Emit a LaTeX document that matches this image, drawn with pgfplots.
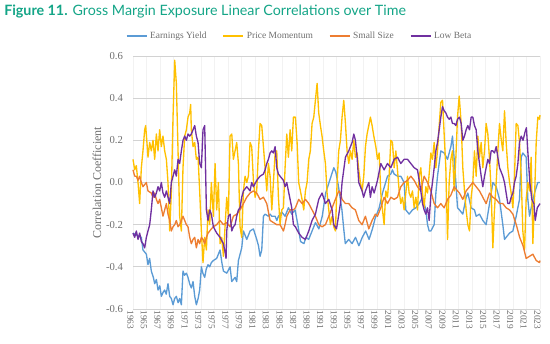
\documentclass[border=0pt]{standalone}
\usepackage{fontspec}
\setmainfont{Liberation Serif}
\newfontfamily\lato{Lato}
\usepackage{pgfplots}
\pgfplotsset{compat=1.18}
\definecolor{cBlue}{HTML}{5B9BD5}
\definecolor{cYellow}{HTML}{FFC000}
\definecolor{cOrange}{HTML}{ED7D31}
\definecolor{cPurple}{HTML}{7030A0}
\definecolor{titlegreen}{RGB}{20,165,135}
\definecolor{txtgray}{RGB}{110,110,110}
\begin{document}
\begin{tikzpicture}
\path[use as bounding box] (0,0) rectangle (412.5pt,257.25pt);
\node[anchor=base west, inner sep=0pt, text=titlegreen, font=\lato\fontsize{10.7}{12}\selectfont] at (3pt,245.6pt) {\textbf{Figure 11.}\hspace{0.35em}Gross Margin Exposure Linear Correlations over Time};
\begin{axis}[
  at={(99.75pt,25.5pt)}, anchor=south west,
  scale only axis, width=305.25pt, height=189.75pt,
  xmin=1963, xmax=2023, ymin=-0.6, ymax=0.6,
  xtick={1963,1965,...,2023},
  ytick={-0.6,-0.4,-0.2,0,0.2,0.4,0.6},
  yticklabels={-0.6,-0.4,-0.2,0.0,0.2,0.4,0.6},
  /pgf/number format/assume math mode=true,
  /pgf/number format/1000 sep={},
  axis line style={draw=none},
  major tick length=0pt,
  xmajorgrids, ymajorgrids,
  x grid style={color=gray!10, line width=0.4pt},
  y grid style={color=gray!35, line width=0.7pt},
  tick label style={font=\fontsize{7}{8}\selectfont, text=txtgray},
  xticklabel style={rotate=-90, anchor=west, inner sep=1pt, yshift=-2pt},
  yticklabel style={font=\fontsize{8}{9}\selectfont, xshift=-4pt},
  ylabel={Correlation Coefficient},
  every axis y label/.style={at={(axis description cs:-0.0885,0.5)}, rotate=90, anchor=center, font=\fontsize{9}{10}\selectfont, text=txtgray},
  legend columns=4,
  legend style={draw=none, fill=none, at={(axis description cs:0.41,1.079)}, anchor=center, font=\fontsize{7.1}{8}\selectfont, text=txtgray, /tikz/every even column/.append style={column sep=10pt}},
  legend image code/.code={\draw[#1, line width=1.2pt] (0pt,0pt) -- (15pt,0pt);},
  every axis plot/.append style={line width=1pt, line join=round, mark=none},
  clip=false,
]
\addplot[cBlue] coordinates {(1963.00,-0.24)(1963.5,-0.25)(1964.23,-0.26)(1964.47,-0.32)(1964.97,-0.34)(1965.21,-0.39)(1965.45,-0.36)(1965.70,-0.42)(1966.0,-0.45)(1966.20,-0.48)(1966.45,-0.46)(1966.69,-0.51)(1966.95,-0.49)(1967.18,-0.54)(1967.45,-0.52)(1967.67,-0.51)(1967.9,-0.53)(1968.16,-0.48)(1968.41,-0.54)(1968.65,-0.55)(1968.90,-0.58)(1969.15,-0.55)(1969.39,-0.54)(1969.65,-0.57)(1969.88,-0.55)(1970.13,-0.58)(1970.37,-0.42)(1970.6,-0.44)(1970.87,-0.43)(1971.11,-0.45)(1971.35,-0.48)(1971.60,-0.50)(1971.85,-0.47)(1972.10,-0.54)(1972.34,-0.58)(1972.6,-0.55)(1972.83,-0.51)(1973.08,-0.40)(1973.3,-0.43)(1973.57,-0.45)(1973.8,-0.41)(1974.06,-0.39)(1974.3,-0.40)(1974.55,-0.38)(1974.85,-0.37)(1975.34,-0.36)(1975.83,-0.32)(1976.1,-0.38)(1976.33,-0.42)(1976.82,-0.43)(1977.31,-0.40)(1977.56,-0.47)(1978.05,-0.45)(1978.29,-0.47)(1978.54,-0.37)(1979.03,-0.31)(1979.28,-0.23)(1979.77,-0.27)(1980.26,-0.23)(1980.75,-0.22)(1981.24,-0.27)(1981.5,-0.30)(1981.73,-0.35)(1981.98,-0.32)(1982.23,-0.16)(1982.47,-0.15)(1982.96,-0.16)(1983.21,-0.15)(1983.46,-0.16)(1983.95,-0.16)(1984.2,-0.18)(1984.44,-0.16)(1984.93,-0.14)(1985.42,-0.16)(1985.91,-0.12)(1986.4,-0.15)(1986.9,-0.13)(1987.3,-0.2)(1987.7,-0.28)(1988.2,-0.29)(1988.5,-0.26)(1988.9,-0.27)(1989.4,-0.23)(1989.9,-0.19)(1990.4,-0.22)(1990.9,-0.16)(1991.4,-0.05)(1991.9,0.0)(1992.3,0.04)(1992.6,0.07)(1992.9,0.05)(1993.3,-0.02)(1993.8,-0.13)(1994.1,-0.23)(1994.3,-0.29)(1994.8,-0.27)(1995.3,-0.29)(1995.8,-0.26)(1996.3,-0.30)(1996.8,-0.26)(1997.3,-0.23)(1997.8,-0.27)(1998.3,-0.22)(1998.7,-0.17)(1999.29,-0.12)(1999.78,-0.05)(2000.52,0.03)(2001.0,0.04)(2001.25,0.06)(2001.5,0.04)(2001.99,0.03)(2002.48,0.03)(2002.97,0.0)(2003.22,-0.13)(2003.71,-0.15)(2004.2,-0.13)(2004.7,-0.12)(2005.19,-0.10)(2005.68,-0.07)(2006.17,-0.13)(2006.42,-0.20)(2006.66,-0.23)(2006.91,-0.23)(2007.4,-0.20)(2007.65,-0.05)(2007.89,0.03)(2008.38,0.15)(2008.87,0.14)(2009.37,0.11)(2009.86,0.17)(2010.1,0.22)(2010.35,0.11)(2010.6,0.0)(2010.84,-0.12)(2011.13,-0.13)(2011.62,-0.15)(2012.11,-0.07)(2012.36,-0.05)(2012.85,-0.12)(2013.34,-0.13)(2013.59,-0.16)(2014.08,-0.15)(2014.57,-0.18)(2015.06,-0.20)(2015.56,-0.10)(2016.05,0.0)(2016.54,-0.02)(2017.03,-0.08)(2017.52,-0.20)(2017.77,-0.27)(2018.01,-0.26)(2018.51,-0.24)(2019.0,-0.23)(2019.49,-0.16)(2019.98,-0.08)(2020.23,0.12)(2020.47,0.14)(2020.96,0.12)(2021.21,-0.08)(2021.46,-0.16)(2021.7,-0.12)(2022.19,-0.05)(2022.68,0.0)(2023.0,0.0)};
\addlegendentry{Earnings Yield}
\addplot[cYellow] coordinates {(1963.0,0.11)(1963.25,0.06)(1963.49,0.08)(1963.74,0.0)(1963.98,-0.10)(1964.23,0.07)(1964.47,0.15)(1964.72,0.25)(1964.87,0.27)(1965.21,0.12)(1965.46,0.19)(1965.7,0.15)(1965.95,0.2)(1966.2,0.11)(1966.44,0.23)(1966.69,0.15)(1966.93,0.25)(1967.18,0.17)(1967.42,0.22)(1967.67,0.15)(1967.92,0.11)(1968.16,0.0)(1968.41,-0.23)(1968.65,-0.05)(1968.9,0.31)(1969.15,0.58)(1969.39,0.47)(1969.64,0.15)(1969.88,-0.16)(1970.13,-0.23)(1970.37,0.07)(1970.62,0.22)(1970.87,0.25)(1971.11,0.31)(1971.36,0.33)(1971.5,0.37)(1971.6,0.25)(1971.85,0.17)(1972.1,0.19)(1972.34,0.11)(1972.59,0.12)(1972.83,-0.04)(1973.08,-0.23)(1973.32,-0.38)(1973.57,-0.26)(1973.82,-0.32)(1974.06,-0.13)(1974.31,-0.2)(1974.55,0.0)(1974.85,-0.16)(1975.1,0.09)(1975.34,-0.13)(1975.59,0.0)(1975.83,-0.29)(1976.08,-0.26)(1976.33,-0.35)(1976.57,-0.21)(1976.82,-0.07)(1977.06,-0.16)(1977.31,0.22)(1977.56,0.23)(1977.8,0.11)(1978.05,0.15)(1978.29,0.19)(1978.54,0.09)(1978.78,-0.21)(1979.03,-0.26)(1979.28,-0.04)(1979.52,0.03)(1979.77,0.0)(1980.01,0.03)(1980.26,0.19)(1980.5,0.17)(1980.75,0.01)(1981.0,-0.07)(1981.24,-0.04)(1981.49,0.15)(1981.73,0.28)(1981.98,0.27)(1982.23,0.17)(1982.47,0.07)(1982.72,-0.04)(1982.96,0.09)(1983.21,0.03)(1983.46,-0.13)(1983.7,0.0)(1983.95,0.14)(1984.19,0.15)(1984.44,-0.07)(1984.68,-0.2)(1984.93,-0.13)(1985.18,-0.12)(1985.42,0.07)(1985.67,0.23)(1985.91,0.12)(1986.16,0.25)(1986.4,0.15)(1986.65,0.31)(1986.94,0.31)(1987.19,0.19)(1987.43,0.0)(1987.68,-0.04)(1987.92,-0.08)(1988.17,-0.13)(1988.42,-0.04)(1988.66,0.0)(1988.91,0.11)(1989.15,0.15)(1989.4,0.28)(1989.65,0.31)(1989.89,0.39)(1990.14,0.47)(1990.38,0.33)(1990.63,0.27)(1990.87,0.22)(1991.12,0.15)(1991.37,0.09)(1991.61,-0.05)(1991.86,-0.13)(1992.1,-0.2)(1992.35,-0.16)(1992.6,-0.21)(1992.84,-0.23)(1993.09,0.0)(1993.33,0.15)(1993.58,0.2)(1993.82,0.31)(1994.07,0.39)(1994.32,0.28)(1994.56,0.15)(1994.81,0.09)(1995.05,0.15)(1995.3,0.11)(1995.55,0.2)(1995.79,0.12)(1996.04,0.14)(1996.28,0.06)(1996.53,0.0)(1996.77,-0.04)(1997.02,0.03)(1997.27,0.17)(1997.51,0.23)(1997.76,0.27)(1998.0,0.31)(1998.25,0.27)(1998.5,0.22)(1998.8,0.17)(1999.04,0.11)(1999.29,0.14)(1999.53,-0.05)(1999.78,-0.13)(2000.02,-0.2)(2000.27,-0.04)(2000.52,-0.07)(2000.76,0.03)(2001.01,0.2)(2001.25,0.19)(2001.5,0.07)(2001.75,0.15)(2001.99,0.06)(2002.24,-0.04)(2002.48,-0.1)(2002.73,-0.07)(2002.97,-0.13)(2003.22,-0.05)(2003.47,0.03)(2003.71,-0.05)(2003.96,-0.07)(2004.2,-0.04)(2004.45,-0.12)(2004.7,-0.07)(2004.94,-0.13)(2005.19,0.03)(2005.43,0.07)(2005.68,-0.05)(2005.92,-0.12)(2006.17,-0.02)(2006.42,-0.05)(2006.66,0.04)(2006.91,0.14)(2007.15,0.11)(2007.4,0.19)(2007.65,0.07)(2007.89,0.15)(2008.14,0.27)(2008.38,0.38)(2008.63,0.39)(2008.87,0.23)(2009.12,0.07)(2009.37,-0.27)(2009.61,0.0)(2009.86,0.11)(2010.1,0.15)(2010.35,-0.04)(2010.6,0.12)(2010.84,0.31)(2011.09,0.41)(2011.38,0.28)(2011.62,0.07)(2011.87,-0.04)(2012.11,-0.13)(2012.36,-0.2)(2012.61,-0.23)(2012.85,-0.07)(2013.1,0.0)(2013.34,0.15)(2013.59,0.03)(2013.84,0.22)(2014.08,0.12)(2014.33,0.19)(2014.57,0.07)(2014.82,0.15)(2015.06,0.28)(2015.31,0.23)(2015.56,0.11)(2015.8,-0.04)(2016.05,-0.31)(2016.29,-0.13)(2016.54,0.0)(2016.79,0.15)(2017.03,0.28)(2017.3,0.2)(2017.52,0.15)(2017.77,0.34)(2018.01,0.19)(2018.26,0.07)(2018.51,0.0)(2018.75,-0.05)(2019.0,-0.12)(2019.24,0.03)(2019.49,0.28)(2019.74,0.27)(2019.98,0.19)(2020.23,0.03)(2020.47,-0.23)(2020.72,-0.32)(2020.96,-0.08)(2021.21,0.0)(2021.46,-0.04)(2021.7,0.12)(2021.95,-0.29)(2022.2,-0.07)(2022.44,0.19)(2022.68,0.31)(2022.93,0.30)(2023.0,0.32)};
\addlegendentry{Price Momentum}
\addplot[cOrange] coordinates {(1963.0,0.06)(1963.25,0.03)(1963.5,0.03)(1963.74,0.01)(1963.98,0.03)(1964.23,0.0)(1964.47,-0.02)(1964.97,0.0)(1965.21,-0.04)(1965.7,-0.05)(1965.95,-0.07)(1966.2,-0.05)(1966.44,-0.08)(1966.69,-0.1)(1966.93,-0.08)(1967.18,-0.12)(1967.42,-0.16)(1967.67,-0.13)(1967.92,-0.1)(1968.16,-0.15)(1968.41,-0.18)(1968.65,-0.23)(1968.9,-0.21)(1969.15,-0.2)(1969.39,-0.18)(1969.64,-0.21)(1969.88,-0.2)(1970.13,-0.18)(1970.37,-0.16)(1970.62,-0.18)(1970.87,-0.2)(1971.11,-0.21)(1971.36,-0.26)(1971.6,-0.29)(1971.85,-0.27)(1972.1,-0.26)(1972.34,-0.31)(1972.59,-0.27)(1972.83,-0.29)(1973.08,-0.26)(1973.32,-0.27)(1973.57,-0.29)(1973.82,-0.26)(1974.06,-0.24)(1974.31,-0.23)(1974.55,-0.22)(1974.85,-0.21)(1975.34,-0.2)(1975.83,-0.18)(1976.33,-0.2)(1976.82,-0.19)(1977.31,-0.21)(1977.8,-0.16)(1978.29,-0.15)(1978.78,-0.13)(1979.28,-0.1)(1979.77,-0.07)(1980.26,-0.05)(1980.75,-0.04)(1981.24,-0.05)(1981.73,-0.08)(1982.23,-0.07)(1982.72,-0.1)(1983.21,-0.18)(1983.7,-0.19)(1984.19,-0.2)(1984.68,-0.2)(1985.18,-0.23)(1985.42,-0.2)(1985.67,-0.16)(1986.16,-0.13)(1986.65,-0.13)(1986.94,-0.12)(1987.43,-0.08)(1987.92,-0.1)(1988.42,-0.08)(1988.91,-0.1)(1989.4,-0.13)(1989.89,-0.16)(1990.38,-0.2)(1990.87,-0.21)(1991.37,-0.2)(1991.86,-0.16)(1992.35,-0.12)(1992.84,-0.08)(1993.33,-0.04)(1993.58,-0.05)(1993.82,-0.08)(1994.32,-0.1)(1994.81,-0.1)(1995.3,-0.12)(1995.79,-0.13)(1996.28,-0.18)(1996.77,-0.2)(1997.27,-0.16)(1997.76,-0.22)(1998.25,-0.18)(1998.74,-0.15)(1999.04,-0.16)(1999.53,-0.12)(2000.02,-0.07)(2000.52,-0.1)(2001.01,-0.07)(2001.5,-0.08)(2001.99,-0.07)(2002.48,-0.02)(2002.97,0.0)(2003.47,0.01)(2003.96,0.03)(2004.45,0.01)(2004.94,-0.02)(2005.43,-0.04)(2005.92,0.03)(2006.42,0.0)(2006.91,-0.04)(2007.4,-0.1)(2007.89,-0.12)(2008.38,-0.1)(2008.87,-0.12)(2009.37,-0.08)(2009.86,-0.06)(2010.35,-0.02)(2010.84,-0.04)(2011.13,-0.05)(2011.62,-0.08)(2012.11,-0.04)(2012.61,-0.02)(2013.1,0.0)(2013.59,-0.02)(2014.08,-0.04)(2014.57,-0.07)(2015.06,-0.1)(2015.56,-0.05)(2016.05,-0.07)(2016.54,-0.08)(2017.03,-0.1)(2017.52,-0.1)(2018.01,-0.12)(2018.51,-0.13)(2019.0,-0.15)(2019.5,-0.2)(2020.0,-0.26)(2020.5,-0.3)(2020.96,-0.36)(2021.46,-0.35)(2021.95,-0.34)(2022.44,-0.37)(2022.93,-0.38)(2023.0,-0.37)};
\addlegendentry{Small Size}
\addplot[cPurple] coordinates {(1963.0,-0.24)(1963.25,-0.26)(1963.49,-0.23)(1963.74,-0.27)(1963.98,-0.24)(1964.23,-0.28)(1964.47,-0.29)(1964.72,-0.31)(1964.97,-0.26)(1965.21,-0.23)(1965.46,-0.2)(1965.7,-0.13)(1965.95,-0.04)(1966.2,-0.07)(1966.44,-0.05)(1966.69,-0.02)(1966.93,-0.04)(1967.18,0.0)(1967.42,-0.05)(1967.67,-0.07)(1967.92,-0.04)(1968.16,-0.07)(1968.41,-0.1)(1968.65,0.0)(1968.9,0.03)(1969.15,0.06)(1969.39,0.03)(1969.64,0.11)(1969.88,0.09)(1970.13,0.15)(1970.37,0.2)(1970.62,0.22)(1970.87,0.2)(1971.11,0.23)(1971.36,0.22)(1971.6,0.23)(1971.85,0.25)(1972.1,0.27)(1972.34,0.22)(1972.59,0.19)(1972.83,0.09)(1973.08,0.07)(1973.32,0.25)(1973.57,0.27)(1973.82,-0.13)(1974.06,-0.18)(1974.31,-0.13)(1974.55,-0.15)(1974.85,-0.21)(1975.34,-0.24)(1975.83,-0.26)(1976.33,-0.29)(1976.57,-0.33)(1976.72,-0.36)(1976.82,-0.23)(1977.06,-0.16)(1977.31,-0.15)(1977.56,-0.23)(1977.8,-0.21)(1978.05,-0.2)(1978.29,-0.16)(1978.54,-0.13)(1978.78,-0.12)(1979.03,-0.07)(1979.28,-0.04)(1979.77,-0.02)(1980.26,-0.04)(1980.5,0.0)(1980.75,-0.02)(1981.24,0.01)(1981.73,0.03)(1982.23,0.04)(1982.47,0.06)(1982.72,0.09)(1982.96,0.11)(1983.21,0.14)(1983.46,0.15)(1983.7,0.14)(1983.95,0.17)(1984.19,0.07)(1984.44,0.04)(1984.68,0.03)(1985.18,0.01)(1985.42,-0.02)(1985.67,0.0)(1985.91,-0.04)(1986.16,-0.08)(1986.4,-0.12)(1986.65,-0.2)(1986.94,-0.21)(1987.43,-0.24)(1987.92,-0.26)(1988.42,-0.27)(1988.91,-0.23)(1989.4,-0.18)(1989.89,-0.15)(1990.38,-0.08)(1990.87,-0.05)(1991.37,-0.1)(1991.86,-0.08)(1992.35,-0.13)(1992.6,-0.2)(1993.0,-0.22)(1993.3,-0.16)(1993.58,-0.1)(1993.82,0.0)(1994.32,0.12)(1994.81,0.15)(1995.3,0.19)(1995.55,0.23)(1995.79,0.2)(1996.04,0.12)(1996.28,0.0)(1996.77,-0.04)(1997.0,-0.07)(1997.27,-0.04)(1997.76,0.0)(1998.0,-0.07)(1998.25,-0.02)(1998.55,-0.05)(1999.04,0.01)(1999.53,0.09)(2000.02,0.06)(2000.52,0.09)(2001.01,0.07)(2001.5,0.11)(2001.99,0.12)(2002.48,0.09)(2002.97,0.11)(2003.47,0.11)(2003.96,0.09)(2004.45,0.07)(2004.94,0.06)(2005.19,0.01)(2005.43,-0.04)(2005.68,-0.1)(2005.92,-0.13)(2006.17,-0.15)(2006.42,-0.12)(2006.66,-0.18)(2006.91,-0.06)(2007.15,0.0)(2007.4,0.07)(2007.65,0.15)(2007.89,0.19)(2008.14,0.25)(2008.38,0.31)(2008.63,0.36)(2008.87,0.34)(2009.12,0.33)(2009.37,0.31)(2009.61,0.3)(2009.86,0.31)(2010.1,0.28)(2010.35,0.28)(2010.6,0.27)(2010.84,0.3)(2011.13,0.31)(2011.38,0.28)(2011.62,0.2)(2011.87,0.22)(2012.11,0.25)(2012.36,0.27)(2012.61,0.25)(2012.85,0.31)(2013.1,0.31)(2013.34,0.27)(2013.59,0.25)(2013.84,0.15)(2014.08,0.09)(2014.33,0.03)(2014.57,-0.02)(2014.82,0.03)(2015.06,0.07)(2015.31,0.11)(2015.56,0.09)(2015.8,0.15)(2016.05,0.15)(2016.29,0.14)(2016.54,0.17)(2016.79,0.12)(2017.03,0.07)(2017.52,0.03)(2017.77,0.0)(2018.01,-0.05)(2018.26,-0.1)(2018.51,-0.1)(2018.75,-0.07)(2019.0,-0.05)(2019.24,0.0)(2019.49,0.03)(2019.74,0.09)(2019.98,0.19)(2020.23,0.22)(2020.5,0.2)(2020.8,0.24)(2021.0,0.26)(2021.2,0.15)(2021.5,0.0)(2021.8,-0.08)(2022.1,-0.1)(2022.3,-0.18)(2022.6,-0.12)(2023.0,-0.1)};
\addlegendentry{Low Beta}
\end{axis}
\end{tikzpicture}
\end{document}
